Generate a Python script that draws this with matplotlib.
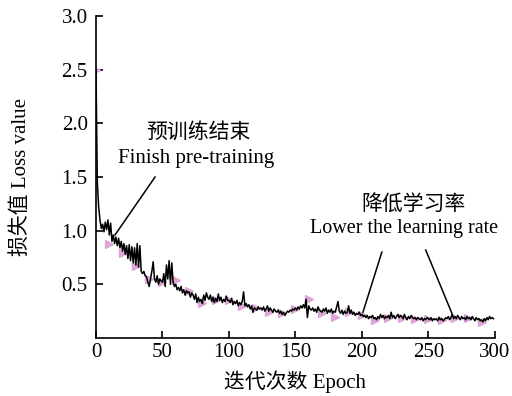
import numpy as np
import matplotlib.pyplot as plt

plt.rcParams['font.family'] = ['Liberation Serif', 'Noto Sans CJK SC']

# raw training loss, one value per epoch (0..299)
loss = [
    2.50, 1.45, 1.22, 1.10, 1.02, 1.06, 0.99, 1.08, 1.01, 1.10,
    0.96, 1.07, 0.90, 0.96, 0.88, 0.94, 0.86, 0.93, 0.84, 0.90,
    0.81, 0.88, 0.78, 0.86, 0.74, 0.87, 0.72, 0.85, 0.70, 0.84,
    0.68, 0.88, 0.66, 0.86, 0.62, 0.60, 0.62, 0.58, 0.57, 0.52,
    0.48, 0.55, 0.62, 0.71, 0.55, 0.52, 0.58, 0.50, 0.55, 0.53,
    0.52, 0.60, 0.48, 0.68, 0.55, 0.72, 0.50, 0.70, 0.52, 0.48,
    0.50, 0.45, 0.47, 0.44, 0.48, 0.42, 0.45, 0.40, 0.44, 0.42,
    0.43, 0.38, 0.42, 0.40, 0.36, 0.41, 0.33, 0.38, 0.34, 0.36,
    0.32, 0.40, 0.35, 0.42, 0.38, 0.36, 0.40, 0.34, 0.38, 0.33,
    0.37, 0.34, 0.41, 0.35, 0.38, 0.33, 0.36, 0.34, 0.39, 0.35,
    0.35, 0.33, 0.37, 0.31, 0.34, 0.32, 0.35, 0.30, 0.33, 0.31,
    0.34, 0.43, 0.30, 0.32, 0.29, 0.31, 0.27, 0.30, 0.24, 0.28,
    0.27, 0.26, 0.29, 0.27, 0.28, 0.26, 0.29, 0.25, 0.27, 0.30,
    0.25, 0.28, 0.26, 0.24, 0.27, 0.25, 0.24, 0.26, 0.23, 0.25,
    0.22, 0.24, 0.21, 0.23, 0.25, 0.24, 0.26, 0.25, 0.27, 0.26,
    0.28, 0.26, 0.29, 0.27, 0.30, 0.28, 0.31, 0.28, 0.36, 0.19,
    0.30, 0.27, 0.26, 0.28, 0.25, 0.27, 0.24, 0.29, 0.26, 0.25,
    0.24, 0.27, 0.25, 0.28, 0.23, 0.26, 0.24, 0.27, 0.23, 0.25,
    0.24, 0.29, 0.34, 0.25, 0.23, 0.26, 0.22, 0.25, 0.23, 0.24,
    0.30, 0.23, 0.26, 0.22, 0.24, 0.21, 0.23, 0.22, 0.24, 0.21,
    0.22, 0.20, 0.21, 0.19, 0.21, 0.18, 0.20, 0.19, 0.21, 0.18,
    0.19, 0.17, 0.20, 0.18, 0.22, 0.19, 0.21, 0.18, 0.20, 0.19,
    0.21, 0.18, 0.24, 0.19, 0.21, 0.18, 0.20, 0.22, 0.19, 0.21,
    0.20, 0.18, 0.22, 0.19, 0.17, 0.20, 0.18, 0.21, 0.19, 0.18,
    0.19, 0.17, 0.19, 0.18, 0.17, 0.19, 0.16, 0.18, 0.17, 0.19,
    0.18, 0.17, 0.19, 0.16, 0.18, 0.17, 0.18, 0.16, 0.19, 0.17,
    0.18, 0.16, 0.17, 0.19, 0.18, 0.20, 0.17, 0.19, 0.22, 0.18,
    0.20, 0.18, 0.21, 0.19, 0.17, 0.20, 0.18, 0.19, 0.17, 0.20,
    0.18, 0.19, 0.17, 0.20, 0.18, 0.16, 0.19, 0.17, 0.18, 0.16,
    0.17, 0.15, 0.18, 0.16, 0.19, 0.17, 0.20, 0.18, 0.19, 0.18,
]
epochs = np.arange(len(loss))

# marker series, every 10 epochs
mark_epochs = np.arange(0, 300, 10)
mark_loss = [2.50, 0.88, 0.79, 0.67, 0.55, 0.52, 0.54, 0.44, 0.33, 0.35,
             0.35, 0.30, 0.28, 0.24, 0.23, 0.27, 0.36, 0.23, 0.20, 0.24,
             0.21, 0.17, 0.19, 0.19, 0.18, 0.18, 0.17, 0.19, 0.19, 0.15]

fig = plt.figure(figsize=(5.12, 3.96), dpi=100)
ax = fig.add_axes([0.1875, 0.1465, 0.779, 0.813])

ax.plot(mark_epochs, mark_loss, linestyle='none', marker='>', color='#dca6d8',
        markersize=6, zorder=2)
ax.plot(epochs, loss, color='black', linewidth=1.1, zorder=3)

ax.set_xlim(0, 300)
ax.set_ylim(0, 3.0)
ax.set_xticks([0, 50, 100, 150, 200, 250, 300])
ax.set_yticks([0.5, 1.0, 1.5, 2.0, 2.5, 3.0])
ax.set_yticklabels(['0.5', '1.0', '1.5', '2.0', '2.5', '3.0'])
for s in ['top', 'right']:
    ax.spines[s].set_visible(False)
for s in ['left', 'bottom']:
    ax.spines[s].set_linewidth(1.2)
ax.tick_params(direction='in', length=5, width=1.2, labelsize=15)
ax.tick_params(axis='y', pad=6)

ax.set_xlabel('迭代次数 Epoch', fontsize=15, labelpad=6)
ax.set_ylabel('损失值 Loss value', fontsize=15, labelpad=22)

# annotations
ax.text(77, 1.91, '预训练结束', fontsize=15, ha='center', va='center')
ax.text(75, 1.67, 'Finish pre-training', fontsize=15, ha='center', va='center')
ax.plot([44.4, 14.3], [1.50, 0.96], color='black', linewidth=1.1)

ax.text(239, 1.24, '降低学习率', fontsize=15, ha='center', va='center')
ax.text(232, 1.02, 'Lower the learning rate', fontsize=14.5, ha='center', va='center')
ax.plot([215, 200.8], [0.80, 0.24], color='black', linewidth=1.1)
ax.plot([248, 267.7], [0.82, 0.23], color='black', linewidth=1.1)

fig.savefig('out.png', dpi=100)
